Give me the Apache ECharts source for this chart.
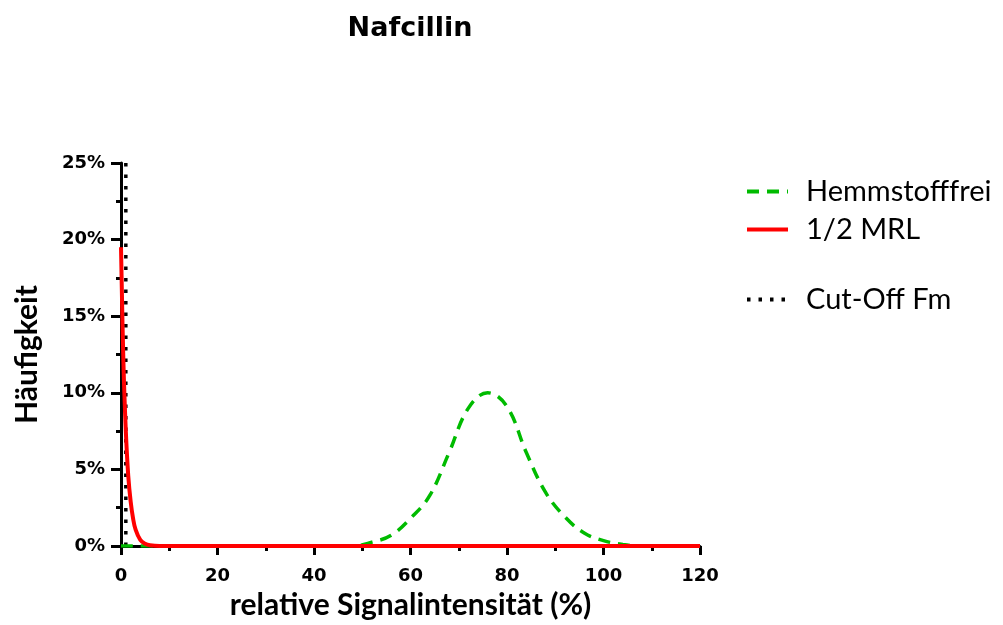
<!DOCTYPE html>
<html>
<head>
<meta charset="utf-8">
<script src="https://cdn.jsdelivr.net/npm/echarts@6/dist/echarts.min.js"></script>
<style>
  html, body { margin: 0; padding: 0; background: #fff; }
  #chart { width: 1003px; height: 625px; }
</style>
</head>
<body>
<div id="chart"></div>
<script>
// Werte (x = relative Signalintensität, y = Häufigkeit in %)
var hemmstofffrei = [
  [0, 0], [48, 0], [52, 0.25], [56, 0.7], [60, 1.8], [64, 3.3], [68, 6.1],
  [72, 9.0], [76, 10.0], [80, 9.1], [84, 6.1], [88, 3.5], [92, 1.9],
  [96, 0.85], [100, 0.35], [104, 0.1], [108, 0], [120, 0]
];
var halbeMRL = [
  [0, 19.5], [0.5, 12], [1, 7.5], [1.5, 4.6], [2, 2.9], [2.5, 1.8],
  [3, 1.1], [4, 0.4], [5, 0.15], [6, 0.05], [8, 0], [120, 0]
];
var cutOff = [[1, 0], [1, 25]];

var xTicks = [0, 20, 40, 60, 80, 100, 120];
var yTicks = [0, 5, 10, 15, 20, 25];

var font = 'Lato';
var tickFont = 'DejaVu Sans';
var chart = echarts.init(document.getElementById('chart'));

var legendText = { fontFamily: font, fontSize: 29, color: '#000', padding: [0, 0, 0, 13] };

chart.setOption({
  animation: false,
  title: {
    text: 'Nafcillin',
    left: 405,
    textAlign: 'center',
    top: 10,
    textStyle: { fontFamily: tickFont, fontSize: 27, fontWeight: 'bold', color: '#000' }
  },
  legend: [
    {
      data: ['Hemmstofffrei', '1/2 MRL'],
      orient: 'vertical',
      left: 740,
      top: 172,
      itemWidth: 41,
      itemHeight: 14,
      itemGap: 9,
      itemStyle: { opacity: 0 },
      lineStyle: { width: 4 },
      textStyle: legendText
    },
    {
      data: ['Cut-Off Fm'],
      orient: 'vertical',
      left: 740,
      top: 280,
      itemWidth: 41,
      itemHeight: 14,
      itemStyle: { opacity: 0 },
      lineStyle: { width: 4 },
      textStyle: legendText
    }
  ],
  grid: { left: 121, right: 303, top: 163, bottom: 79 },
  xAxis: {
    type: 'value',
    min: xTicks[0],
    max: xTicks[xTicks.length - 1],
    interval: 20,
    name: 'relative Signalintensität (%)',
    nameLocation: 'middle',
    nameGap: 44,
    nameTextStyle: { fontFamily: font, fontSize: 30, fontWeight: 'bold', color: '#000' },
    axisLine: { onZero: false, lineStyle: { color: '#000', width: 3 } },
    axisTick: { length: 9, lineStyle: { color: '#000', width: 3 } },
    minorTick: { show: true, splitNumber: 2, length: 5, lineStyle: { color: '#000', width: 3 } },
    axisLabel: { margin: 21, fontFamily: tickFont, fontSize: 18, fontWeight: 'bold', color: '#000' },
    splitLine: { show: false }
  },
  yAxis: {
    type: 'value',
    min: yTicks[0],
    max: yTicks[yTicks.length - 1],
    interval: 5,
    name: 'Häufigkeit',
    nameLocation: 'middle',
    nameGap: 79,
    nameTextStyle: { fontFamily: font, fontSize: 30, fontWeight: 'bold', color: '#000' },
    axisLine: { show: true, lineStyle: { color: '#000', width: 3 } },
    axisTick: { show: true, length: 10, lineStyle: { color: '#000', width: 3 } },
    minorTick: { show: true, splitNumber: 2, length: 5, lineStyle: { color: '#000', width: 3 } },
    axisLabel: { margin: 16, fontFamily: tickFont, fontSize: 18, fontWeight: 'bold', color: '#000', formatter: '{value}%' },
    splitLine: { show: false }
  },
  series: [
    {
      name: 'Hemmstofffrei',
      type: 'line',
      data: hemmstofffrei,
      smooth: 0.4,
      symbol: 'none',
      color: '#00bb00',
      lineStyle: { color: '#00bb00', width: 3.5, type: [12, 8] },
      z: 2
    },
    {
      name: '1/2 MRL',
      type: 'line',
      data: halbeMRL,
      smooth: 0.4,
      symbol: 'none',
      color: '#ff0000',
      lineStyle: { color: '#ff0000', width: 4 },
      z: 3
    },
    {
      name: 'Cut-Off Fm',
      type: 'line',
      data: cutOff,
      symbol: 'none',
      color: '#000',
      lineStyle: { color: '#000', width: 3.5, type: [3.5, 8] },
      z: 1
    }
  ]
});
</script>
</body>
</html>
